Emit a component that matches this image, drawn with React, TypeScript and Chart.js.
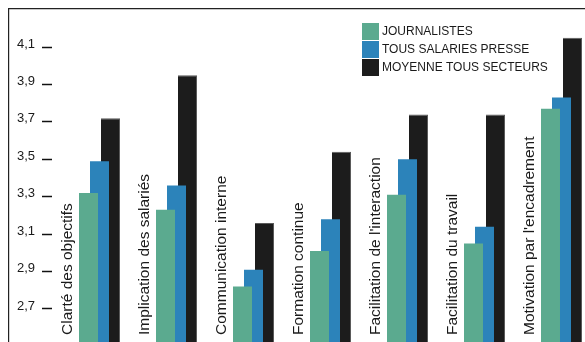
import React, { useEffect, useRef } from "react";
import { Chart, registerables } from "chart.js";

Chart.register(...registerables);

const categories = [
  "Clarté des objectifs",
  "Implication des salariés",
  "Communication interne",
  "Formation continue",
  "Facilitation de l'interaction",
  "Facilitation du travail",
  "Motivation par l'encadrement",
];
const journalistes = [3.32, 3.23, 2.82, 3.01, 3.31, 3.05, 3.77];
const salariesPresse = [3.49, 3.36, 2.91, 3.18, 3.5, 3.14, 3.83];
const moyenneSecteurs = [3.72, 3.95, 3.16, 3.54, 3.74, 3.74, 4.15];
const yTicks = [2.7, 2.9, 3.1, 3.3, 3.5, 3.7, 3.9, 4.1];
const seriesNames = ["JOURNALISTES", "TOUS SALARIES PRESSE", "MOYENNE TOUS SECTEURS"];

const FONT = '"Liberation Sans", Arial, Helvetica, sans-serif';

const overlayPlugin = {
  id: "overlay",
  afterDatasetsDraw(chart: any) {
    const ctx = chart.ctx;
    const xs = chart.scales.x;
    const area = chart.chartArea;
    ctx.save();
    ctx.fillStyle = "#1a1a1a";
    ctx.font = `15.5px ${FONT}`;
    ctx.textAlign = "left";
    ctx.textBaseline = "alphabetic";
    (chart.data.labels as string[]).forEach((label, i) => {
      const cx = xs.getPixelForValue(i);
      ctx.save();
      ctx.translate(cx - 27.5, area.bottom - 7);
      ctx.rotate(-Math.PI / 2);
      ctx.fillText(label, 0, 0);
      ctx.restore();
    });
    ctx.restore();
  },
  afterDraw(chart: any) {
    const ctx = chart.ctx;
    ctx.save();
    // frame
    ctx.strokeStyle = "#222";
    ctx.lineWidth = 1.2;
    ctx.beginPath();
    ctx.moveTo(0.6, chart.height);
    ctx.lineTo(0.6, 0.6);
    ctx.lineTo(chart.width, 0.6);
    ctx.stroke();
    // legend
    const lx = 354;
    const ly = 15;
    ctx.font = `12px ${FONT}`;
    ctx.textBaseline = "middle";
    ctx.textAlign = "left";
    chart.data.datasets.forEach((ds: any, i: number) => {
      const y = ly + i * 18;
      ctx.fillStyle = ds.backgroundColor;
      ctx.fillRect(lx, y, 17, 17);
      ctx.fillStyle = "#1a1a1a";
      ctx.fillText(ds.label, lx + 20, y + 9);
    });
    ctx.restore();
  },
};

export default function App() {
  const ref = useRef<HTMLCanvasElement | null>(null);
  useEffect(() => {
    if (!ref.current) return;
    const toXY = (arr: number[]) => arr.map((v, i) => ({ x: i, y: v }));
    const chart = new Chart(ref.current, {
      type: "bar",
      data: {
        labels: categories,
        datasets: [
          {
            label: seriesNames[0],
            data: toXY(journalistes),
            backgroundColor: "#5BAA8F",
            order: 0,
          },
          {
            label: seriesNames[1],
            data: toXY(salariesPresse),
            backgroundColor: "#2C83BA",
            order: 1,
          },
          {
            label: seriesNames[2],
            data: toXY(moyenneSecteurs),
            backgroundColor: "#1C1C1C",
            borderColor: "#5a5a5a",
            borderWidth: { top: 1, right: 1, left: 0, bottom: 0 },
            order: 2,
          },
        ] as any,
      },
      options: {
        responsive: false,
        animation: false,
        events: [],
        layout: { padding: { top: 4, right: 0, bottom: 0, left: 0 } },
        datasets: {
          bar: {
            categoryPercentage: 3 / 7,
            barPercentage: 19 / 11,
          },
        } as any,
        plugins: {
          legend: { display: false },
          tooltip: { enabled: false },
          title: { display: false },
        },
        scales: {
          x: {
            type: "linear",
            display: false,
            offset: false,
            grace: 0,
            bounds: "ticks",
            min: -0.6169,
            max: 6.3052,
            afterBuildTicks: (s: any) => {
              s.ticks = categories.map((_, i) => ({ value: i }));
            },
            afterFit: (s: any) => {
              s.paddingLeft = 0;
              s.paddingRight = 0;
            },
          },
          y: {
            type: "linear",
            min: 2.5236,
            max: 4.2874,
            afterBuildTicks: (s: any) => {
              s.ticks = yTicks.map((v) => ({ value: v }));
            },
            afterFit: (s: any) => {
              s.width = 44;
              s.paddingTop = 0;
              s.paddingBottom = 0;
            },
            border: { display: false },
            grid: {
              drawOnChartArea: false,
              drawTicks: true,
              tickLength: 10,
              tickColor: "#111",
              tickWidth: 1.5,
            },
            ticks: {
              padding: 7,
              labelOffset: -3,
              color: "#1a1a1a",
              font: { family: FONT, size: 13 },
              callback: (v: any) => Number(v).toFixed(1).replace(".", ","),
            },
          },
        },
      } as any,
      plugins: [overlayPlugin],
    });
    return () => chart.destroy();
  }, []);
  return (
    <div
      style={{
        position: "fixed",
        left: 8,
        top: 8,
        width: 577,
        height: 334,
        background: "#fff",
      }}
    >
      <canvas ref={ref} width={577} height={334} style={{ display: "block" }} />
    </div>
  );
}
